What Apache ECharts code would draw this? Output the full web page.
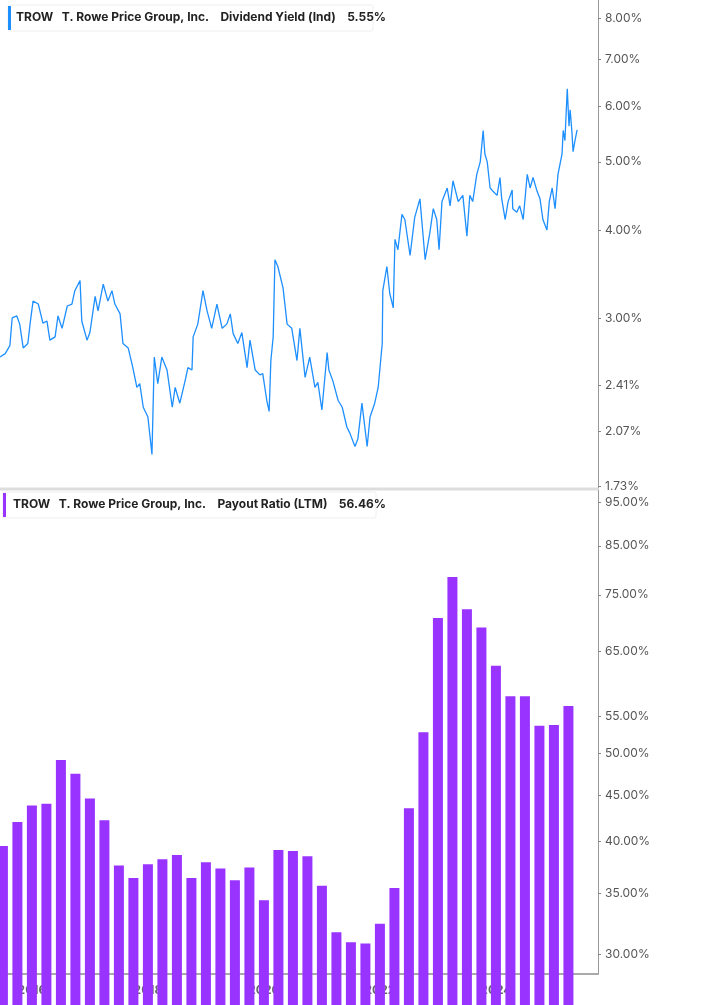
<!DOCTYPE html>
<html><head><meta charset="utf-8">
<script src="https://cdn.jsdelivr.net/npm/echarts@6/dist/echarts.min.js"></script>
<style>html,body{margin:0;padding:0;background:#fff}#c{width:717px;height:1005px}</style>
</head><body><div id="c"></div>
<script>
const yieldDates=[2015.45,2015.54,2015.62,2015.66,2015.74,2015.79,2015.85,2015.93,2015.97,2016.02,2016.11,2016.19,2016.26,2016.31,2016.40,2016.45,2016.52,2016.61,2016.69,2016.74,2016.83,2016.86,2016.95,2017.00,2017.09,2017.14,2017.23,2017.31,2017.38,2017.43,2017.52,2017.57,2017.66,2017.74,2017.81,2017.86,2017.92,2018.00,2018.07,2018.11,2018.17,2018.24,2018.33,2018.42,2018.47,2018.55,2018.64,2018.69,2018.76,2018.78,2018.86,2018.95,2019.02,2019.10,2019.19,2019.28,2019.36,2019.42,2019.47,2019.55,2019.62,2019.71,2019.76,2019.85,2019.93,2019.98,2020.05,2020.09,2020.12,2020.16,2020.19,2020.24,2020.33,2020.40,2020.48,2020.57,2020.62,2020.71,2020.79,2020.88,2020.93,2021.00,2021.09,2021.12,2021.19,2021.28,2021.35,2021.43,2021.48,2021.57,2021.62,2021.69,2021.78,2021.83,2021.91,2021.97,2022.04,2022.05,2022.12,2022.17,2022.23,2022.26,2022.31,2022.38,2022.43,2022.52,2022.60,2022.69,2022.78,2022.86,2022.92,2022.98,2023.02,2023.07,2023.16,2023.21,2023.26,2023.35,2023.43,2023.50,2023.55,2023.60,2023.67,2023.73,2023.78,2023.81,2023.85,2023.90,2023.95,2024.02,2024.07,2024.10,2024.16,2024.21,2024.28,2024.29,2024.36,2024.41,2024.47,2024.54,2024.59,2024.64,2024.71,2024.76,2024.81,2024.88,2024.92,2024.97,2025.02,2025.07,2025.14,2025.16,2025.19,2025.23,2025.26,2025.28,2025.31,2025.33,2025.36,2025.40,2025.43];
const yieldValues=[2.64,2.67,2.74,3.00,3.02,2.94,2.72,2.76,2.95,3.17,3.14,2.95,2.97,2.79,2.82,3.02,2.90,3.12,3.14,3.28,3.39,2.97,2.79,2.86,3.22,3.07,3.35,3.17,3.28,3.14,3.04,2.76,2.72,2.55,2.39,2.42,2.24,2.17,1.92,2.64,2.42,2.64,2.53,2.24,2.39,2.27,2.44,2.55,2.53,2.82,2.94,3.28,3.07,2.90,3.14,2.90,2.94,3.04,2.85,2.76,2.86,2.55,2.79,2.53,2.49,2.50,2.29,2.21,2.61,2.82,3.63,3.55,3.31,2.94,2.90,2.61,2.90,2.47,2.64,2.39,2.43,2.22,2.68,2.53,2.44,2.29,2.24,2.10,2.06,1.97,2.02,2.27,1.97,2.17,2.27,2.39,2.76,3.28,3.55,3.25,3.10,3.88,3.75,4.21,4.14,3.68,4.17,4.43,3.63,3.96,4.29,4.14,3.75,4.39,4.59,4.33,4.70,4.39,4.48,3.92,4.48,4.39,4.80,5.00,5.54,5.13,5.00,4.59,4.54,4.48,4.75,4.43,4.14,4.39,4.56,4.29,4.24,4.33,4.14,4.80,4.59,4.75,4.54,4.43,4.14,4.00,4.39,4.59,4.29,4.80,5.13,5.54,5.36,6.35,5.62,5.93,5.52,5.17,5.34,5.55];
const payoutDates=[2015.50,2015.75,2016.00,2016.25,2016.50,2016.75,2017.00,2017.25,2017.50,2017.75,2018.00,2018.25,2018.50,2018.75,2019.00,2019.25,2019.50,2019.75,2020.00,2020.25,2020.50,2020.75,2021.00,2021.25,2021.50,2021.75,2022.00,2022.25,2022.50,2022.75,2023.00,2023.25,2023.50,2023.75,2024.00,2024.25,2024.50,2024.75,2025.00,2025.25];
const payoutValues=[39.5,42.0,43.8,44.0,49.2,47.5,44.6,42.2,37.6,36.4,37.7,38.2,38.6,36.4,37.9,37.3,36.2,37.4,34.4,39.1,39.0,38.5,35.7,31.7,30.9,30.8,32.4,35.5,43.5,52.8,70.7,78.5,72.3,69.0,62.6,57.9,57.9,53.7,53.8,56.46];
const yearTicks=[2016,2018,2020,2022,2024];
const yieldTicks=[1.73,2.07,2.41,3,4,5,6,7,8];
const payoutTicks=[30,35,40,45,50,55,65,75,85,95];
const lastYield=5.55, lastPayout=56.46;

const blue='#1e8fff', purple='#9933ff';
const chart=echarts.init(document.getElementById('c'));
const lbl={color:'#555',fontSize:12,fontFamily:'Inter, Roboto, sans-serif'};
function yAx(idx,min,max,ticks){return {type:'log',gridIndex:idx,position:'right',min:min,max:max,
  axisLine:{show:true,lineStyle:{color:'#999',width:1}},splitLine:{show:false},
  axisTick:{show:true,length:3,lineStyle:{color:'#888'},customValues:ticks},
  axisLabel:Object.assign({customValues:ticks,formatter:v=>v.toFixed(2)+'%',margin:7},lbl)};}
function xAx(idx,show){return {type:'value',gridIndex:idx,min:2015.45,max:2025.76,
  axisLine:{show:!!show,onZero:false,lineStyle:{color:'#aaa',width:2}},splitLine:{show:false},
  axisTick:{show:!!show,customValues:yearTicks,length:4,lineStyle:{color:'#888'}},
  axisLabel:{show:!!show,customValues:yearTicks,formatter:v=>String(v),color:'#666',fontWeight:'bold',fontSize:12,fontFamily:'Inter, Roboto, sans-serif',margin:10}};}
function tag(val,text,color){return {silent:true,symbol:'none',lineStyle:{opacity:0},data:[{yAxis:val}],
  label:{show:true,position:'end',distance:0,formatter:text,color:'#fff',fontWeight:'bold',fontSize:11,lineHeight:13,align:'center',
  backgroundColor:color,padding:[2,4,2,4],width:111,fontFamily:'Inter, Roboto, sans-serif'}};}
chart.setOption({
  animation:false,
  grid:[{left:0,right:119,top:0,height:488},{left:0,right:119,top:490,bottom:31}],
  xAxis:[xAx(0,false),xAx(1,true)],
  yAxis:[yAx(0,1.72,8.49,yieldTicks),yAx(1,28.5,98,payoutTicks)],
  series:[
    {type:'line',xAxisIndex:0,yAxisIndex:0,clip:false,z:3,data:yieldDates.map((d,i)=>[d,yieldValues[i]]),showSymbol:false,
     lineStyle:{color:blue,width:1.3},itemStyle:{color:blue},
     markLine:tag(lastYield,'Div Yld (Ind)\n'+lastYield.toFixed(2)+'%',blue)},
    {type:'bar',xAxisIndex:1,yAxisIndex:1,clip:false,z:3,data:payoutDates.map((d,i)=>[d,payoutValues[i]]),barWidth:10,
     itemStyle:{color:purple},
     markLine:tag(lastPayout,'Payout Ratio (LTM)\n'+lastPayout.toFixed(2)+'%',purple)}
  ],
  graphic:[
    {type:'line',shape:{x1:0,y1:489,x2:598,y2:489},style:{stroke:'#ddd',lineWidth:3}},
    {type:'rect',shape:{x:8,y:5,width:365,height:26,r:2},style:{fill:'#fff',stroke:'#eee',lineWidth:1}},
    {type:'rect',shape:{x:8,y:6,width:3,height:24},style:{fill:blue}},
    {type:'text',x:16,y:11,style:{text:'TROW   T. Rowe Price Group, Inc.    Dividend Yield (Ind)    5.55%',fill:'#222',font:'bold 12px Inter, Roboto, sans-serif'}},
    {type:'rect',shape:{x:3,y:492,width:373,height:26,r:2},style:{fill:'#fff',stroke:'#eee',lineWidth:1}},
    {type:'rect',shape:{x:3,y:493,width:3,height:24},style:{fill:purple}},
    {type:'text',x:13,y:498,style:{text:'TROW   T. Rowe Price Group, Inc.    Payout Ratio (LTM)    56.46%',fill:'#222',font:'bold 12px Inter, Roboto, sans-serif'}}
  ]
});
</script></body></html>
